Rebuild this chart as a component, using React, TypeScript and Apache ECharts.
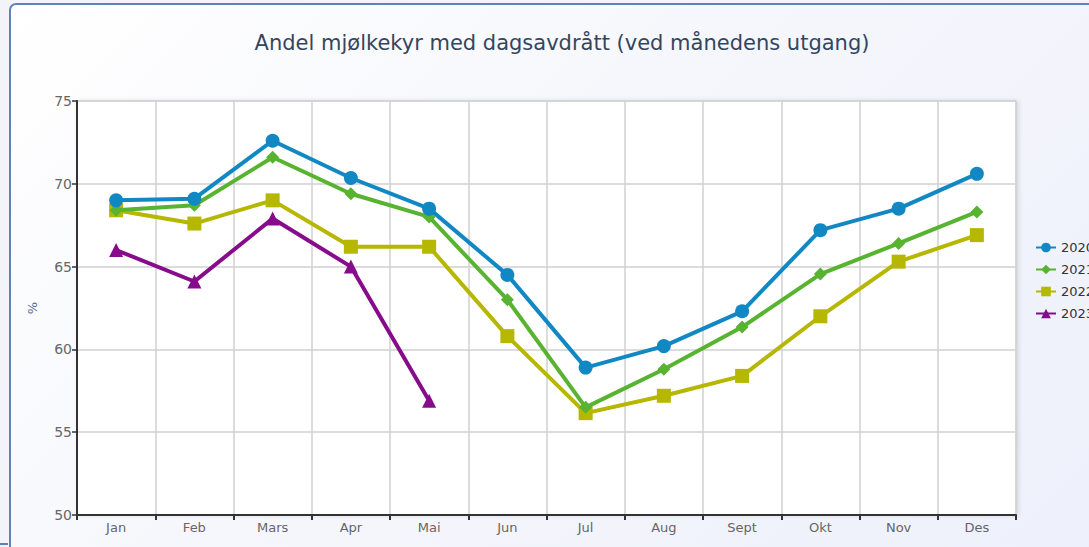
import React, { useEffect, useRef } from "react";
import * as echarts from "echarts";

const months = ["Jan", "Feb", "Mars", "Apr", "Mai", "Jun", "Jul", "Aug", "Sept", "Okt", "Nov", "Des"];
const yTicks = [50, 55, 60, 65, 70, 75];
const s2020 = [69.0, 69.1, 72.6, 70.35, 68.5, 64.5, 58.9, 60.2, 62.3, 67.2, 68.5, 70.6];
const s2021 = [68.4, 68.7, 71.6, 69.4, 68.0, 63.0, 56.5, 58.8, 61.35, 64.55, 66.4, 68.3];
const s2022 = [68.4, 67.6, 69.0, 66.2, 66.2, 60.8, 56.15, 57.2, 58.4, 62.0, 65.3, 66.9];
const s2023 = [66.0, 64.1, 67.9, 65.0, 56.9];

const seriesDefs = [
  { name: "2020", data: s2020, color: "#1188c4", symbol: "circle", size: 14 },
  { name: "2021", data: s2021, color: "#58b331", symbol: "diamond", size: 13 },
  { name: "2022", data: s2022, color: "#b6b700", symbol: "rect", size: 14 },
  { name: "2023", data: s2023, color: "#870c8c", symbol: "triangle", size: 14 },
];

const FONT = "DejaVu Sans";

export default function App() {
  const ref = useRef<HTMLDivElement>(null);
  useEffect(() => {
    if (!ref.current) return;
    const chart = echarts.init(ref.current, undefined, { renderer: "svg" });
    chart.setOption({
      animation: false,
      backgroundColor: "transparent",
      textStyle: { fontFamily: FONT },
      title: {
        text: "Andel mjølkekyr med dagsavdrått (ved månedens utgang)",
        left: 557,
        textAlign: "center",
        top: 27,
        textStyle: { fontFamily: FONT, fontSize: 21, fontWeight: "normal", color: "#34465e" },
      },
      legend: {
        orient: "vertical",
        left: 1030,
        top: 236,
        itemWidth: 20,
        itemHeight: 12,
        itemGap: 9,
        textStyle: { fontFamily: FONT, fontSize: 13, color: "#333" },
        data: seriesDefs.map((s) => s.name),
      },
      grid: {
        left: 77,
        right: 73,
        top: 101,
        bottom: 32,
        show: true,
        backgroundColor: "#ffffff",
        borderColor: "#cccccc",
        borderWidth: 1,
        shadowColor: "rgba(0,0,0,0.12)",
        shadowBlur: 4,
        shadowOffsetX: 2,
      },
      xAxis: {
        type: "category",
        data: months,
        boundaryGap: true,
        axisLine: { lineStyle: { color: "#333", width: 2 } },
        axisTick: { show: true, length: 5, interval: 0, lineStyle: { color: "#333", width: 2 } },
        axisLabel: { color: "#666", fontSize: 13, fontFamily: FONT, margin: 6, interval: 0 },
        splitLine: { show: true, interval: 0, lineStyle: { color: "#d0d0d0", width: 1.5 } },
      },
      yAxis: {
        type: "value",
        min: yTicks[0],
        max: yTicks[yTicks.length - 1],
        interval: 5,
        name: "%",
        nameLocation: "middle",
        nameGap: 38,
        nameRotate: 90,
        nameTextStyle: { color: "#5a6e8c", fontSize: 13, fontFamily: FONT },
        axisLine: { show: true, lineStyle: { color: "#333", width: 2 } },
        axisTick: { show: true, length: 5, lineStyle: { color: "#333", width: 1.5 } },
        axisLabel: { color: "#666", fontSize: 14, fontFamily: FONT, margin: 5 },
        splitLine: { show: true, lineStyle: { color: "#d0d0d0", width: 1.5 } },
      },
      series: seriesDefs.map((s) => ({
        name: s.name,
        type: "line",
        data: s.data,
        symbol: s.symbol,
        symbolSize: s.size,
        showAllSymbol: true,
        lineStyle: { color: s.color, width: 4 },
        itemStyle: { color: s.color, borderWidth: 0 },
        emphasis: { disabled: true },
        z: 10 - Number(s.name.slice(3)),
      })),
    });
    return () => chart.dispose();
  }, []);

  return (
    <div style={{ position: "absolute", left: 0, top: 0, width: 1089, height: 547, overflow: "hidden", background: "#f3f4fa" }}>
      <div style={{ position: "absolute", left: 0, top: 543, width: 8, height: 2, background: "#5b7fb8" }} />
      <div
        style={{
          position: "absolute",
          left: 9,
          top: 3,
          width: 1200,
          height: 600,
          border: "2px solid #5f83b8",
          borderRadius: 7,
          boxSizing: "border-box",
          background: "linear-gradient(135deg, #ffffff 0%, #f6f7fc 40%, #eceffb 100%)",
        }}
      />
      <div ref={ref} style={{ position: "absolute", left: 0, top: 0, width: 1089, height: 547 }} />
    </div>
  );
}
